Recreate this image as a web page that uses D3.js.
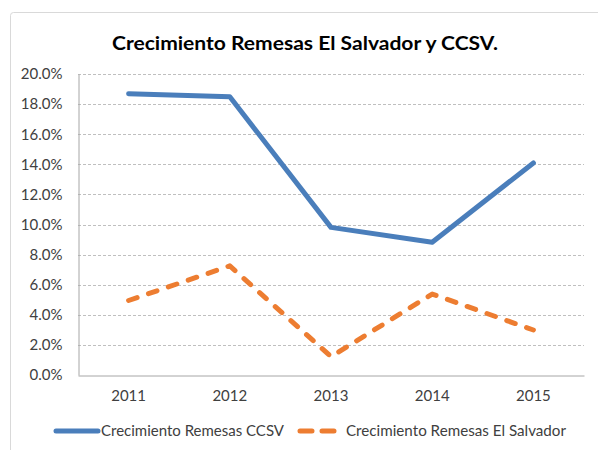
<!DOCTYPE html>
<html>
<head>
<meta charset="utf-8">
<script src="https://cdn.jsdelivr.net/npm/d3@7"></script>
<style>
  html, body { margin: 0; padding: 0; background: #fff; }
  svg { display: block; font-family: Lato, "Open Sans", sans-serif; }
</style>
</head>
<body>
<svg id="chart" width="598" height="450"></svg>
<script>
// Annual growth of remittances, 2011-2015
const years = ["2011", "2012", "2013", "2014", "2015"];
const ccsv = [0.1869, 0.1849, 0.0981, 0.0882, 0.1409];
const elSalvador = [0.0495, 0.0725, 0.0122, 0.0538, 0.0299];
const yTicks = [0, 0.02, 0.04, 0.06, 0.08, 0.10, 0.12, 0.14, 0.16, 0.18, 0.20];
const seriesNames = ["Crecimiento Remesas CCSV", "Crecimiento Remesas El Salvador"];
const titleText = "Crecimiento Remesas El Salvador y CCSV.";

const svg = d3.select("#chart");
const blue = "#4a7ebb", orange = "#ed7d31", textCol = "#404040";
const tickFont = 15;

// chart frame
svg.append("rect")
  .attr("x", 10.5).attr("y", 12.5).attr("width", 600).attr("height", 460)
  .attr("rx", 3)
  .attr("fill", "#fff").attr("stroke", "#d9d9d9").attr("stroke-width", 1);

svg.append("text")
  .attr("x", 305).attr("y", 50)
  .attr("text-anchor", "middle")
  .attr("font-size", 19).attr("font-weight", "bold").attr("fill", "#000")
  .attr("textLength", 386).attr("lengthAdjust", "spacingAndGlyphs")
  .text(titleText);

const plotLeft = 78, plotRight = 584, plotTop = 74, plotBottom = 375;
const x = d3.scaleBand().domain(years).range([plotLeft, plotRight]);
const y = d3.scaleLinear().domain([0, 0.20]).range([plotBottom, plotTop]);

// horizontal gridlines
svg.append("g").selectAll("line")
  .data(yTicks.filter(d => d > 0))
  .join("line")
  .attr("x1", plotLeft).attr("x2", plotRight)
  .attr("y1", d => Math.round(y(d)) + 0.5).attr("y2", d => Math.round(y(d)) + 0.5)
  .attr("stroke", "#bfbfbf").attr("stroke-width", 1).attr("stroke-dasharray", "3,2");

// y axis
const yAxis = svg.append("g")
  .attr("transform", `translate(${plotLeft + 0.5},0)`)
  .call(d3.axisLeft(y).tickValues(yTicks).tickFormat(d3.format(".1%")).tickSize(0).tickPadding(16));
yAxis.select(".domain").attr("stroke", "#a6a6a6");
yAxis.selectAll("text").attr("font-size", tickFont).attr("fill", textCol)
  .attr("font-family", "Lato, sans-serif");

// x axis
const xAxis = svg.append("g")
  .attr("transform", `translate(0,${plotBottom + 0.5})`)
  .call(d3.axisBottom(x).tickSize(0).tickPadding(15));
xAxis.select(".domain").attr("stroke", "#a6a6a6");
xAxis.selectAll("text").attr("font-size", tickFont).attr("fill", textCol)
  .attr("font-family", "Lato, sans-serif");

const line = d3.line()
  .x((d, i) => x(years[i]) + x.bandwidth() / 2)
  .y(d => y(d));

svg.append("path")
  .datum(ccsv)
  .attr("d", line)
  .attr("fill", "none").attr("stroke", blue).attr("stroke-width", 5)
  .attr("stroke-linejoin", "round").attr("stroke-linecap", "round");

svg.append("path")
  .datum(elSalvador)
  .attr("d", line)
  .attr("fill", "none").attr("stroke", orange).attr("stroke-width", 5)
  .attr("stroke-linejoin", "round").attr("stroke-linecap", "round")
  .attr("stroke-dasharray", "9,12");

// legend
const lg = svg.append("g");
lg.append("line").attr("x1", 56).attr("x2", 98).attr("y1", 431).attr("y2", 431)
  .attr("stroke", blue).attr("stroke-width", 5).attr("stroke-linecap", "round");
lg.append("text").attr("x", 101).attr("y", 436)
  .attr("font-size", tickFont).attr("fill", textCol)
  .attr("textLength", 183).attr("lengthAdjust", "spacingAndGlyphs")
  .text(seriesNames[0]);
lg.append("line").attr("x1", 300).attr("x2", 334).attr("y1", 431).attr("y2", 431)
  .attr("stroke", orange).attr("stroke-width", 5).attr("stroke-linecap", "round")
  .attr("stroke-dasharray", "12,10");
lg.append("text").attr("x", 346).attr("y", 436)
  .attr("font-size", tickFont).attr("fill", textCol)
  .attr("textLength", 220).attr("lengthAdjust", "spacingAndGlyphs")
  .text(seriesNames[1]);
</script>
</body>
</html>
